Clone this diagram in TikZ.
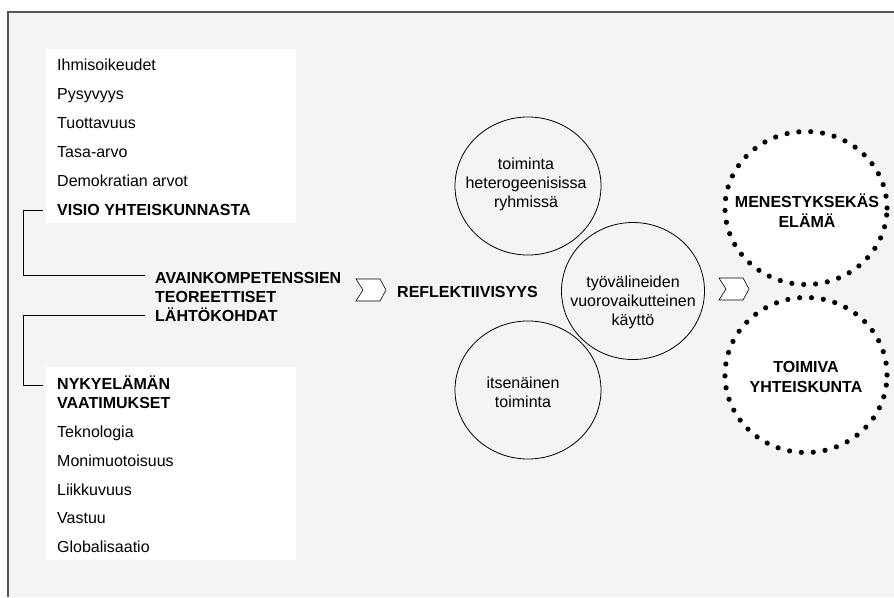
\documentclass[tikz,border=0pt]{standalone}
\usepackage{fontspec}
\setmainfont{Liberation Sans}
\usetikzlibrary{shapes.geometric}
\definecolor{bg}{HTML}{F4F4F4}
\definecolor{framecol}{HTML}{555555}
\begin{document}
\begin{tikzpicture}[x=1pt,y=-1pt,
 item/.style={anchor=base west, inner sep=0pt, font=\fontsize{16}{18.5}\selectfont},
 bolditem/.style={anchor=base west, inner sep=0pt, font=\fontsize{16}{18.5}\selectfont\bfseries},
 ring/.style={ellipse, draw=black, line width=0.8pt, inner sep=0pt},
 dotring/.style={ellipse, draw=black, fill=white, line width=5.2pt, dash pattern=on 0pt off 11.9pt, line cap=round, inner sep=0pt},
 ctext/.style={align=center, inner sep=0pt, font=\fontsize{16}{19}\selectfont},
 btext/.style={align=center, inner sep=0pt, font=\fontsize{16}{20}\selectfont\bfseries},
 chev/.style={draw=black, fill=white, line width=0.6pt, line join=miter},
 bracket/.style={draw=black, line width=0.8pt}
]
\useasboundingbox (0,0) rectangle (894,597);
\fill[white] (0,0) rectangle (894,597);
\fill[bg] (8,12) rectangle (894,597);
\draw[framecol, line width=1.5pt] (8,597) -- (8,12) -- (894,12);

% top list
\fill[white] (46,49) rectangle (296,223);
\node[item] (i1) at (57,70.5) {Ihmisoikeudet};
\node[item] (i2) at (57,99.5) {Pysyvyys};
\node[item] (i3) at (57,128.5) {Tuottavuus};
\node[item] (i4) at (57,157.5) {Tasa-arvo};
\node[item] (i5) at (57,186.5) {Demokratian arvot};
\node[bolditem] (visio) at (57,215.5) {VISIO YHTEISKUNNASTA};

% bottom list
\fill[white] (46,367) rectangle (296,560);
\node[bolditem] (nyky1) at (57,389) {NYKYELÄMÄN};
\node[bolditem] (nyky2) at (57,408.5) {VAATIMUKSET};
\node[item] (j1) at (57,437.5) {Teknologia};
\node[item] (j2) at (57,466.5) {Monimuotoisuus};
\node[item] (j3) at (57,495.5) {Liikkuvuus};
\node[item] (j4) at (57,523.5) {Vastuu};
\node[item] (j5) at (57,552.5) {Globalisaatio};

% centre label
\node[bolditem] (av1) at (155,283) {AVAINKOMPETENSSIEN};
\node[bolditem] (av2) at (155,302) {TEOREETTISET};
\node[bolditem] (av3) at (155,321) {LÄHTÖKOHDAT};

% brackets
\coordinate (ta) at (43,210);
\coordinate (tb) at (145,275);
\coordinate (ba) at (145,315);
\coordinate (bb) at (43,385);
\draw[bracket] (ta) -- ++(-20,0) |- (tb);
\draw[bracket] (ba) -- ++(-122,0) |- (bb);

% chevron 1 and reflektiivisyys
\draw[chev] (356,279) coordinate (ch1) -- (380,279) -- (386,290) -- (380,301) -- (356,301) -- (363,290) -- cycle;
\node[bolditem] (refl) at (397,297.5) {REFLEKTIIVISYYS};

% circles
\node[ring, minimum width=146pt, minimum height=138pt] (c1) at (528,186) {};
\node[ctext] (t1) at (526,184) {toiminta\\heterogeenisissa\\ryhmissä};
\node[ring, minimum width=143pt, minimum height=137pt] (c2) at (633,291) {};
\node[ctext] (t2) at (633,302) {työvälineiden\\vuorovaikutteinen\\käyttö};
\node[ring, minimum width=146pt, minimum height=138pt] (c3) at (528,390) {};
\node[ctext] (t3) at (523,392) {itsenäinen\\toiminta};

% chevron 2
\draw[chev] (719,278) coordinate (ch2) -- (743,278) -- (749,289) -- (743,300) -- (719,300) -- (726,289) -- cycle;

% dotted circles
\node[dotring, minimum width=162pt, minimum height=153pt] (d1) at (806,208) {};
\node[btext] (e1) at (807,211) {MENESTYKSEKÄS\\ELÄMÄ};
\node[dotring, minimum width=162pt, minimum height=155pt] (d2) at (806,375) {};
\node[btext] (e2) at (806,377) {TOIMIVA\\YHTEISKUNTA};
\end{tikzpicture}
\end{document}
